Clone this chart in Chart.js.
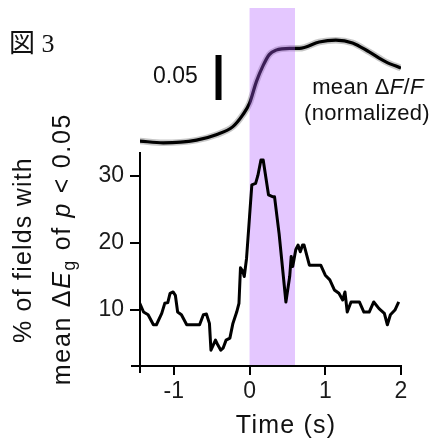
<!DOCTYPE html>
<html>
<head>
<meta charset="utf-8">
<script src="https://cdn.jsdelivr.net/npm/chart.js@4/dist/chart.umd.min.js"></script>
<style>
  body { margin: 0; background: #fff; }
  #wrap { position: relative; width: 436px; height: 441px; overflow: hidden; }
  #chart { position: absolute; left: 0; top: 0; }
  .txt { position: absolute; font-family: "Liberation Sans", Arial, sans-serif; color: #111; white-space: nowrap; line-height: 1; }
  .rot { transform: translate(-50%, -50%) rotate(-90deg); }
  .ctr { transform: translate(-50%, 0); text-align: center; }
  sub { font-size: 0.7em; line-height: 0; vertical-align: -0.3em; }
</style>
</head>
<body>
<div id="wrap">
  <canvas id="chart" width="436" height="441"></canvas>
  <div class="txt" style="left:9px; top:31px; font-family:'Liberation Serif','Noto Sans CJK JP',serif; font-size:26px;">図 3</div>
  <div class="txt" style="left:153px; top:64px; font-size:23px;">0.05</div>
  <div class="txt ctr" style="left:368px; top:76px; font-size:22px; letter-spacing:0.3px;">mean Δ<i>F</i>/<i>F</i></div>
  <div class="txt ctr" style="left:367px; top:102px; font-size:22px; letter-spacing:0.3px;">(normalized)</div>
  <div class="txt rot" style="left:22px; top:250px; font-size:25px; letter-spacing:1.2px;">% of fields with</div>
  <div class="txt rot" style="left:61px; top:249px; font-size:25px; letter-spacing:1.7px;">mean Δ<i>E</i><sub>g</sub> of <i>p</i> &lt; 0.05</div>
  <div class="txt ctr" style="left:286px; top:412px; font-size:25px; letter-spacing:1.2px;">Time (s)</div>
</div>
<script>
// % of fields with significant mean dEg (lower trace)
const timeSec = [-1.45, -1.40, -1.34, -1.27, -1.23, -1.16, -1.12, -1.08, -1.05, -1.01,
  -0.98, -0.95, -0.90, -0.83, -0.66, -0.61, -0.57, -0.53, -0.51, -0.45,
  -0.42, -0.38, -0.35, -0.31, -0.26, -0.22, -0.17, -0.14, -0.12, -0.09,
  -0.07, -0.04, 0.00, 0.03, 0.08, 0.11, 0.15, 0.18, 0.25, 0.31,
  0.33, 0.39, 0.48, 0.53, 0.55, 0.57, 0.61, 0.64, 0.67, 0.70,
  0.72, 0.79, 0.94, 1.00, 1.06, 1.12, 1.18, 1.23, 1.26, 1.29,
  1.34, 1.45, 1.51, 1.58, 1.64, 1.71, 1.78, 1.82, 1.86, 1.92, 1.97];
const pctFields = [11.0, 9.7, 9.3, 7.8, 7.8, 9.5, 11.0, 11.1, 12.5, 12.7,
  12.2, 9.7, 9.3, 7.8, 7.8, 9.3, 9.4, 8.0, 4.0, 5.5,
  4.8, 4.0, 4.3, 5.5, 5.8, 8.0, 9.7, 11.0, 16.3, 15.8,
  15.0, 17.7, 24.0, 28.7, 28.9, 30.1, 32.4, 32.4, 27.2, 26.9,
  26.9, 21.4, 11.2, 15.0, 18.0, 16.5, 19.0, 19.7, 18.7, 19.7,
  19.7, 16.7, 16.7, 15.2, 14.5, 13.0, 12.5, 11.5, 12.7, 9.7,
  11.2, 11.2, 9.7, 9.7, 11.2, 10.2, 9.5, 7.8, 9.3, 10.0, 11.2];

// mean dF/F (upper trace)
const dffTime = [-1.45, -1.14, -0.70, -0.44, -0.22, -0.09, 0.00, 0.09, 0.18, 0.26,
  0.35, 0.53, 0.66, 0.92, 1.14, 1.36, 1.58, 1.80, 2.00];
const dffMean = [0.000, -0.002, 0.001, 0.007, 0.016, 0.029, 0.042, 0.066, 0.084, 0.096,
  0.101, 0.103, 0.103, 0.110, 0.112, 0.109, 0.099, 0.088, 0.081];

// scale bar for dF/F
const barTime = [-0.41, -0.41];
const barDff = [0.0456, 0.0956];

const stimWindow = [0, 0.6];
const xTicks = [-1, 0, 1, 2];
const yTicks = [10, 20, 30];
const yAxisTop = 33.6;

const toPts = (xs, ys) => xs.map((x, i) => ({ x, y: ys[i] }));

const stimShade = {
  id: 'stimShade',
  afterDatasetDraw(chart, args) {
    if (args.index !== 2) return;
    const { ctx, chartArea, scales: { x } } = chart;
    const x0 = x.getPixelForValue(stimWindow[0]);
    const x1 = x.getPixelForValue(stimWindow[1]);
    ctx.save();
    ctx.fillStyle = 'rgba(176, 90, 255, 0.34)';
    ctx.fillRect(x0, chartArea.top, x1 - x0, chartArea.bottom - chartArea.top);
    ctx.restore();
  }
};

const axisLines = {
  id: 'axisLines',
  afterDraw(chart) {
    const { ctx, scales: { x, y } } = chart;
    ctx.save();
    ctx.strokeStyle = '#000';
    ctx.lineWidth = 2;
    ctx.beginPath();
    ctx.moveTo(x.left, y.getPixelForValue(yAxisTop));
    ctx.lineTo(x.left, y.bottom + 7);
    ctx.moveTo(x.left - 9, y.bottom);
    ctx.lineTo(x.getPixelForValue(2) + 1, y.bottom);
    ctx.stroke();
    ctx.restore();
  }
};

new Chart(document.getElementById('chart').getContext('2d'), {
  type: 'line',
  data: {
    datasets: [
      {
        data: toPts(timeSec, pctFields),
        borderColor: '#000',
        borderWidth: 3,
        borderJoinStyle: 'round',
        pointRadius: 0,
        tension: 0,
        yAxisID: 'y'
      },
      {
        data: toPts(barTime, barDff),
        borderColor: '#000',
        borderWidth: 6,
        pointRadius: 0,
        yAxisID: 'yTop'
      },
      {
        data: toPts(dffTime, dffMean),
        borderColor: '#000',
        borderWidth: 3.2,
        pointRadius: 0,
        cubicInterpolationMode: 'monotone',
        yAxisID: 'yTop'
      },
      {
        data: toPts(dffTime, dffMean),
        borderColor: 'rgba(0,0,0,0.22)',
        borderWidth: 6.5,
        pointRadius: 0,
        cubicInterpolationMode: 'monotone',
        yAxisID: 'yTop'
      }
    ]
  },
  options: {
    responsive: false,
    devicePixelRatio: 1,
    animation: false,
    layout: { padding: { left: 0, top: 8, right: 35, bottom: 0 } },
    plugins: {
      legend: { display: false },
      tooltip: { enabled: false }
    },
    scales: {
      x: {
        type: 'linear',
        min: -1.447,
        max: 2.0,
        afterBuildTicks: (s) => { s.ticks = xTicks.map(v => ({ value: v })); },
        afterFit: (s) => { s.height = 75; s.paddingLeft = 0; s.paddingRight = 0; },
        border: { display: false },
        grid: { drawOnChartArea: false, drawTicks: true, tickLength: 9, color: '#000', lineWidth: 2 },
        ticks: {
          color: '#1a1a1a',
          padding: 3,
          maxRotation: 0,
          font: { family: 'Liberation Sans', size: 23 }
        }
      },
      y: {
        type: 'linear',
        min: 1.64,
        max: 55.1,
        afterBuildTicks: (s) => { s.ticks = yTicks.map(v => ({ value: v })); },
        afterFit: (s) => { s.width = 140; s.paddingTop = 0; s.paddingBottom = 0; },
        border: { display: false },
        grid: { drawOnChartArea: false, drawTicks: true, tickLength: 10, color: '#000', lineWidth: 2 },
        ticks: {
          color: '#1a1a1a',
          padding: 6,
          font: { family: 'Liberation Sans', size: 23 }
        }
      },
      yTop: {
        type: 'linear',
        display: false,
        min: -0.25,
        max: 0.1478
      }
    }
  },
  plugins: [stimShade, axisLines]
});
</script>
</body>
</html>
